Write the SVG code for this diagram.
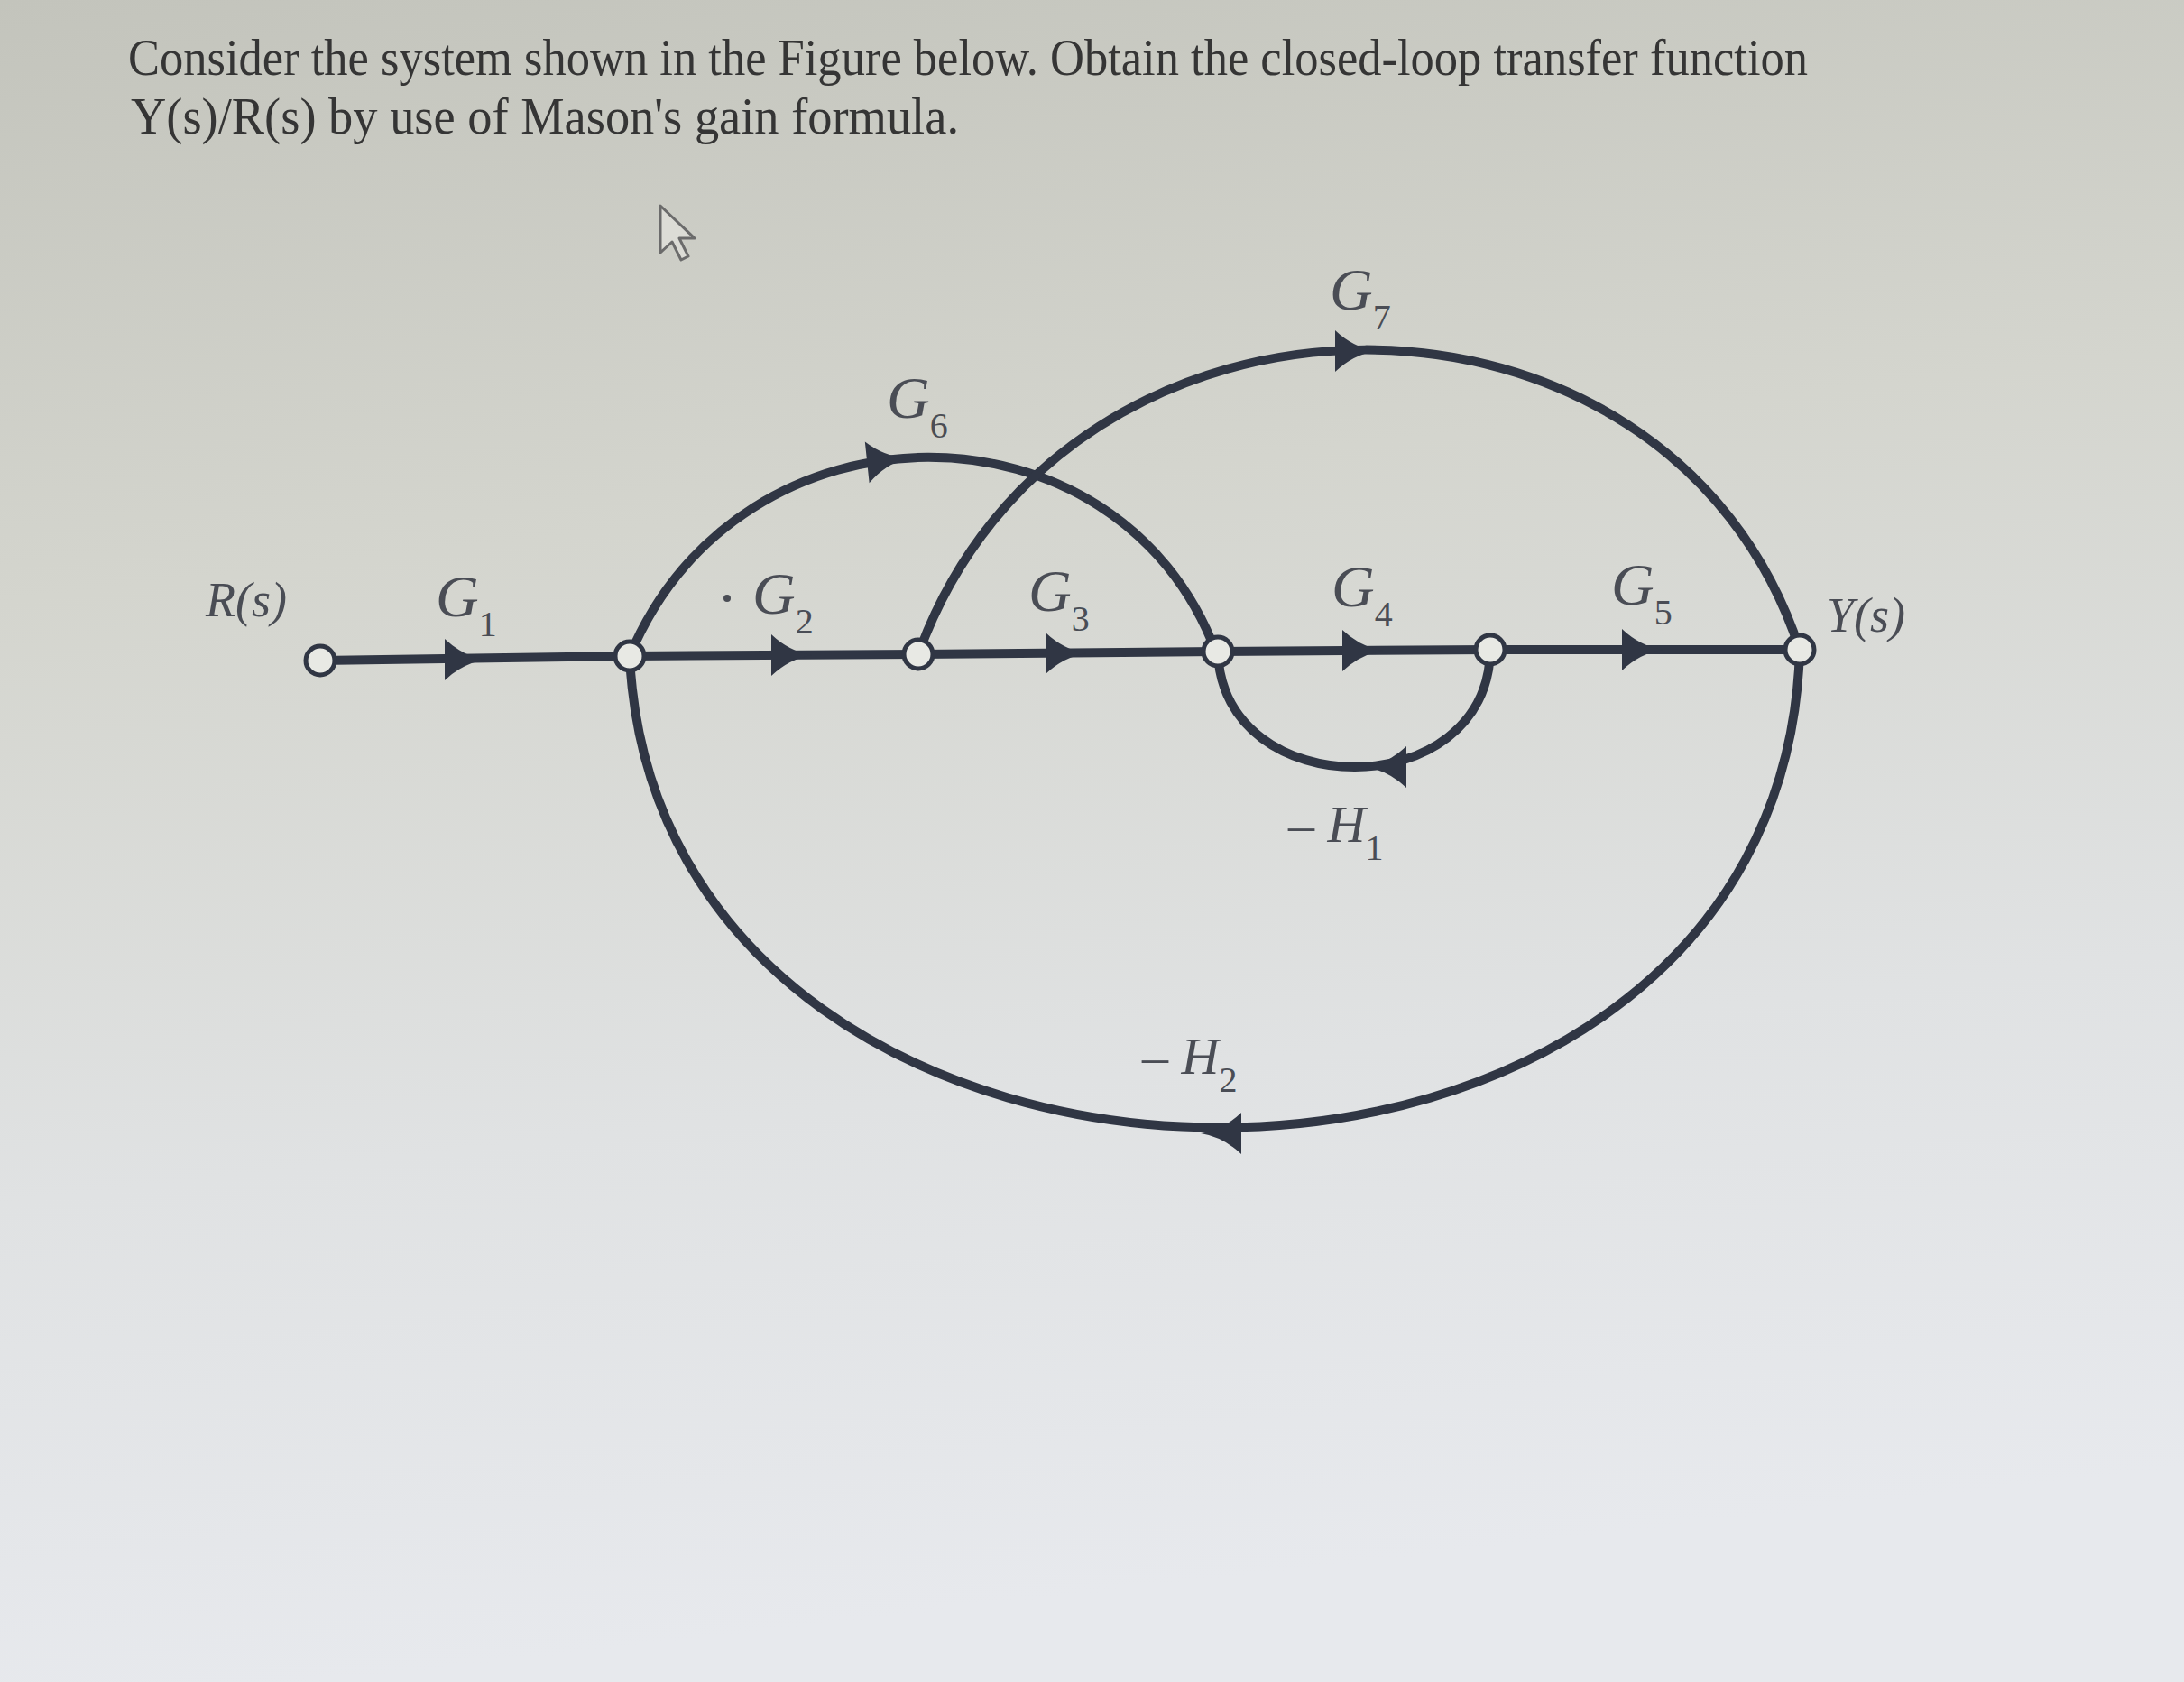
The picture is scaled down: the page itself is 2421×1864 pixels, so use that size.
<svg xmlns="http://www.w3.org/2000/svg" width="2421" height="1864" viewBox="0 0 2421 1864">
<defs>
<linearGradient id="bg" x1="0" y1="0" x2="0.15" y2="1">
<stop offset="0" stop-color="#c3c4bc"/>
<stop offset="0.35" stop-color="#d4d5ce"/>
<stop offset="0.7" stop-color="#e0e2e3"/>
<stop offset="1" stop-color="#e7e9ed"/>
</linearGradient>
<path id="ah" d="M3,0 Q-22,-4 -42,-23 L-42,23 Q-22,4 3,0 Z"/>
<style>
.title{font-family:"Liberation Serif","Times New Roman",serif;font-size:56px;fill:#353535}
.lbl{font-family:"Liberation Serif","Times New Roman",serif;font-style:italic;fill:#4a4d55}
.g{font-size:66px}
.sub{font-size:40px;font-style:normal}
.io{font-size:54px}
.h{font-size:58px}
.edge{fill:none;stroke:#303644;stroke-width:10;stroke-linecap:round}
.arrow{fill:#303644}
.node{fill:#e8e9e4;stroke:#303644;stroke-width:5}
</style>
</defs>
<rect x="0" y="0" width="2421" height="1864" fill="url(#bg)"/>

<text class="title" x="142" y="83" textLength="1862" lengthAdjust="spacingAndGlyphs">Consider the system shown in the Figure below. Obtain the closed-loop transfer function</text>
<text class="title" x="145" y="148" textLength="918" lengthAdjust="spacingAndGlyphs">Y(s)/R(s) by use of Mason's gain formula.</text>

<path d="M732,228 L732,280 L745,268 L755,288 L763,284 L753,264 L770,264 Z" fill="#dcdcd6" stroke="#6b6b6b" stroke-width="3" stroke-linejoin="round"/>

<g id="connectors">
<line class="edge" x1="355" y1="732" x2="698" y2="727"/>
<line class="edge" x1="698" y1="727" x2="1018" y2="725"/>
<line class="edge" x1="1018" y1="725" x2="1350" y2="722"/>
<line class="edge" x1="1350" y1="722" x2="1652" y2="720"/>
<line class="edge" x1="1652" y1="720" x2="1995" y2="720"/>
<path class="edge" d="M698,727 C820,434 1240,434 1348,723"/>
<path class="edge" d="M1018,725 C1180,276 1850,276 1995,720"/>
<path class="edge" d="M1652,720 C1650,893 1355,893 1350,722"/>
<path class="edge" d="M1995,720 C1975,1430 730,1420 698,727"/>
<use href="#ah" class="arrow" transform="translate(535,731)"/>
<use href="#ah" class="arrow" transform="translate(897,726)"/>
<use href="#ah" class="arrow" transform="translate(1201,724)"/>
<use href="#ah" class="arrow" transform="translate(1530,721)"/>
<use href="#ah" class="arrow" transform="translate(1840,720)"/>
<use href="#ah" class="arrow" transform="translate(1003,508) rotate(-6)"/>
<use href="#ah" class="arrow" transform="translate(1522,389)"/>
<use href="#ah" class="arrow" transform="translate(1517,850) rotate(180)"/>
<use href="#ah" class="arrow" transform="translate(1334,1256) rotate(180)"/>
</g>

<g id="labels">
<text class="lbl io" x="228" y="683">R(s)</text>
<text class="lbl g" x="483" y="683">G<tspan class="sub" dy="22">1</tspan></text>
<circle cx="806" cy="663" r="4" fill="#4a4d55"/>
<text class="lbl g" x="834" y="680">G<tspan class="sub" dy="22">2</tspan></text>
<text class="lbl g" x="1140" y="677">G<tspan class="sub" dy="22">3</tspan></text>
<text class="lbl g" x="1476" y="672">G<tspan class="sub" dy="22">4</tspan></text>
<text class="lbl g" x="1786" y="670">G<tspan class="sub" dy="22">5</tspan></text>
<text class="lbl g" x="983" y="463">G<tspan class="sub" dy="22">6</tspan></text>
<text class="lbl g" x="1474" y="343">G<tspan class="sub" dy="22">7</tspan></text>
<text class="lbl io" x="2025" y="700">Y(s)</text>
<text class="lbl h" x="1428" y="933">– H<tspan class="sub" dy="20">1</tspan></text>
<text class="lbl h" x="1266" y="1190">– H<tspan class="sub" dy="20">2</tspan></text>
</g>

<g id="node-R"><circle class="node" cx="355" cy="732" r="16"/></g>
<g id="node-2"><circle class="node" cx="698" cy="727" r="16"/></g>
<g id="node-3"><circle class="node" cx="1018" cy="725" r="16"/></g>
<g id="node-4"><circle class="node" cx="1350" cy="722" r="16"/></g>
<g id="node-5"><circle class="node" cx="1652" cy="720" r="16"/></g>
<g id="node-Y"><circle class="node" cx="1995" cy="720" r="16"/></g>
</svg>
